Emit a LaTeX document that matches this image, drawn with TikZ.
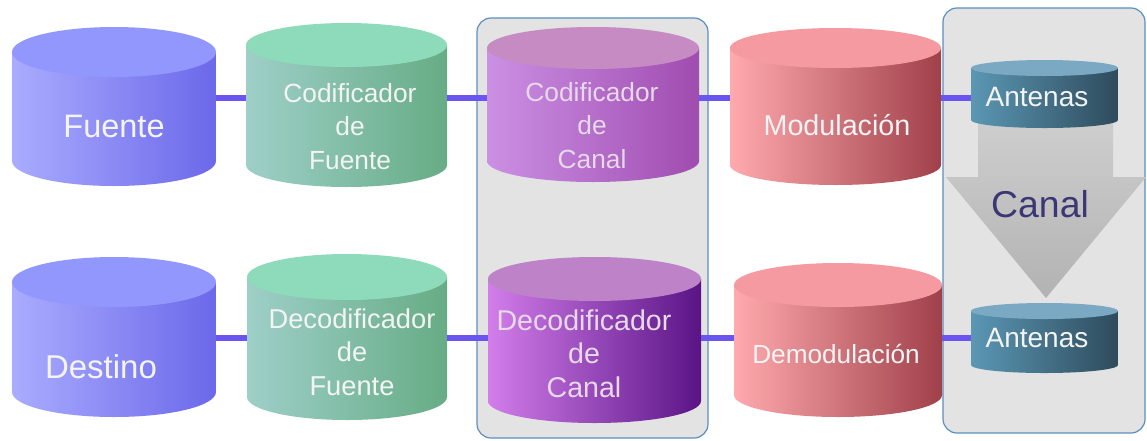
\documentclass[tikz,border=0pt]{standalone}
\usepackage{fontspec}
\setmainfont{Liberation Sans}
\usetikzlibrary{calc}
\definecolor{bluL}{HTML}{A9ACFE}\definecolor{bluR}{HTML}{6C68EA}\definecolor{bluT}{HTML}{9297FE}
\definecolor{grnL}{HTML}{9ECFC8}\definecolor{grnR}{HTML}{66AC85}\definecolor{grnT}{HTML}{8DDBBB}
\definecolor{pu1L}{HTML}{CB90E4}\definecolor{pu1R}{HTML}{A04CB0}\definecolor{pu1T}{HTML}{C78BC4}
\definecolor{pu2L}{HTML}{D27DEA}\definecolor{pu2R}{HTML}{5A1486}\definecolor{pu2T}{HTML}{BD82C7}
\definecolor{pnkL}{HTML}{FFAAAE}\definecolor{pnkR}{HTML}{A0404A}\definecolor{pnkT}{HTML}{F49AA0}
\definecolor{antL}{HTML}{5B97B4}\definecolor{antR}{HTML}{2E4B5C}\definecolor{antT}{HTML}{7BA8C2}
\definecolor{connC}{HTML}{6A55F0}
\definecolor{boxF}{HTML}{E3E3E3}\definecolor{boxD}{HTML}{5A8FBF}
\definecolor{txtW}{HTML}{F4F4F4}\definecolor{txtP}{HTML}{E6D9EA}
\definecolor{canalC}{HTML}{3B3775}
\newcommand\cyl[8]{%
  \shade[left color=#7L,right color=#7R] (#2,#4) -- (#2,#5)
    arc[start angle=180,end angle=0,x radius={(#3-#2)/2},y radius=#6] -- (#3,#4) -- cycle;
  \fill[#7T] ({(#2+#3)/2},#4) ellipse[x radius={(#3-#2)/2},y radius=#6];
  \node[inner sep=0,minimum width={(#3-#2)*1pt},minimum height=2pt] (#1) at ({(#2+#3)/2},#8) {};
}
\tikzset{
  conn/.style={line width=6pt,draw=connC},
  grpbox/.style={fill=boxF,draw=boxD,line width=1.2pt,rounded corners=14pt},
  lbl/.style={anchor=base,inner sep=0,text=txtW,align=center},
  fsz/.style={font={\fontsize{#1}{33.5}\selectfont}},
}
\begin{document}
\begin{tikzpicture}[x=1pt,y=-1pt]
\useasboundingbox (0,0) rectangle (1147,440);
% group boxes
\draw[grpbox] (477,18) rectangle (708,438);
\draw[grpbox] (943,8) rectangle (1145,433);
% channel arrow
\shade[top color=black!18,bottom color=black!30]
  (978,100) -- (1113,100) -- (1113,177) -- (1146,177) -- (1046,298) -- (946,177) -- (978,177) -- cycle;
% cylinders top row
\cyl{fuente}{12}{216}{52}{161}{25}{blu}{98}
\cyl{codf}{246}{447}{45}{165}{22}{grn}{98}
\cyl{codc}{487}{699}{48}{161}{21}{pu1}{98}
\cyl{mod}{730}{941}{48}{165}{20}{pnk}{98}
\cyl{antA}{971}{1118}{68}{120}{8}{ant}{98}
% cylinders bottom row
\cyl{destino}{12}{216}{282}{392}{25}{blu}{338}
\cyl{decf}{247}{447}{277}{397}{23}{grn}{338}
\cyl{decc}{488}{701}{279}{401}{22}{pu2}{338}
\cyl{demod}{734}{942}{285}{395}{22}{pnk}{338}
\cyl{antB}{971}{1118}{311}{365}{8}{ant}{338}
% connectors
\draw[conn] (fuente.east) -- (codf.west);
\draw[conn] (codf.east) -- (codc.west);
\draw[conn] (codc.east) -- (mod.west);
\draw[conn] (mod.east) -- (antA.west);
\draw[conn] (destino.east) -- (decf.west);
\draw[conn] (decf.east) -- (decc.west);
\draw[conn] (decc.east) -- (demod.west);
\draw[conn] (demod.east) -- (antB.west);
% labels
\node[lbl,fsz=32.5] (tFuente) at (114,137) {Fuente};
\node[lbl,fsz=26.3] (tCodF) at (350,169) {Codificador\\de\\Fuente};
\node[lbl,fsz=26.3,text=txtP] (tCodC) at (592,168) {Codificador\\de\\Canal};
\node[lbl,fsz=28.7] (tMod) at (837,135) {Modulación};
\node[lbl,fsz=28] (tAntA) at (1037,106) {Antenas};
\node[lbl,fsz=33] (tDest) at (101,378) {Destino};
\node[lbl,fsz=27.3] (tDecF) at (352,395) {Decodificador\\de\\Fuente};
\node[lbl,fsz=28.6,text=txtP] (tDecC) at (584,397) {Decodificador\\de\\Canal};
\node[lbl,fsz=26.2] (tDemod) at (836,363) {Demodulación};
\node[lbl,fsz=28] (tAntB) at (1037,347) {Antenas};
\node[lbl,fsz=37.4,text=canalC] (tCanal) at (1040,217) {Canal};
\end{tikzpicture}
\end{document}
